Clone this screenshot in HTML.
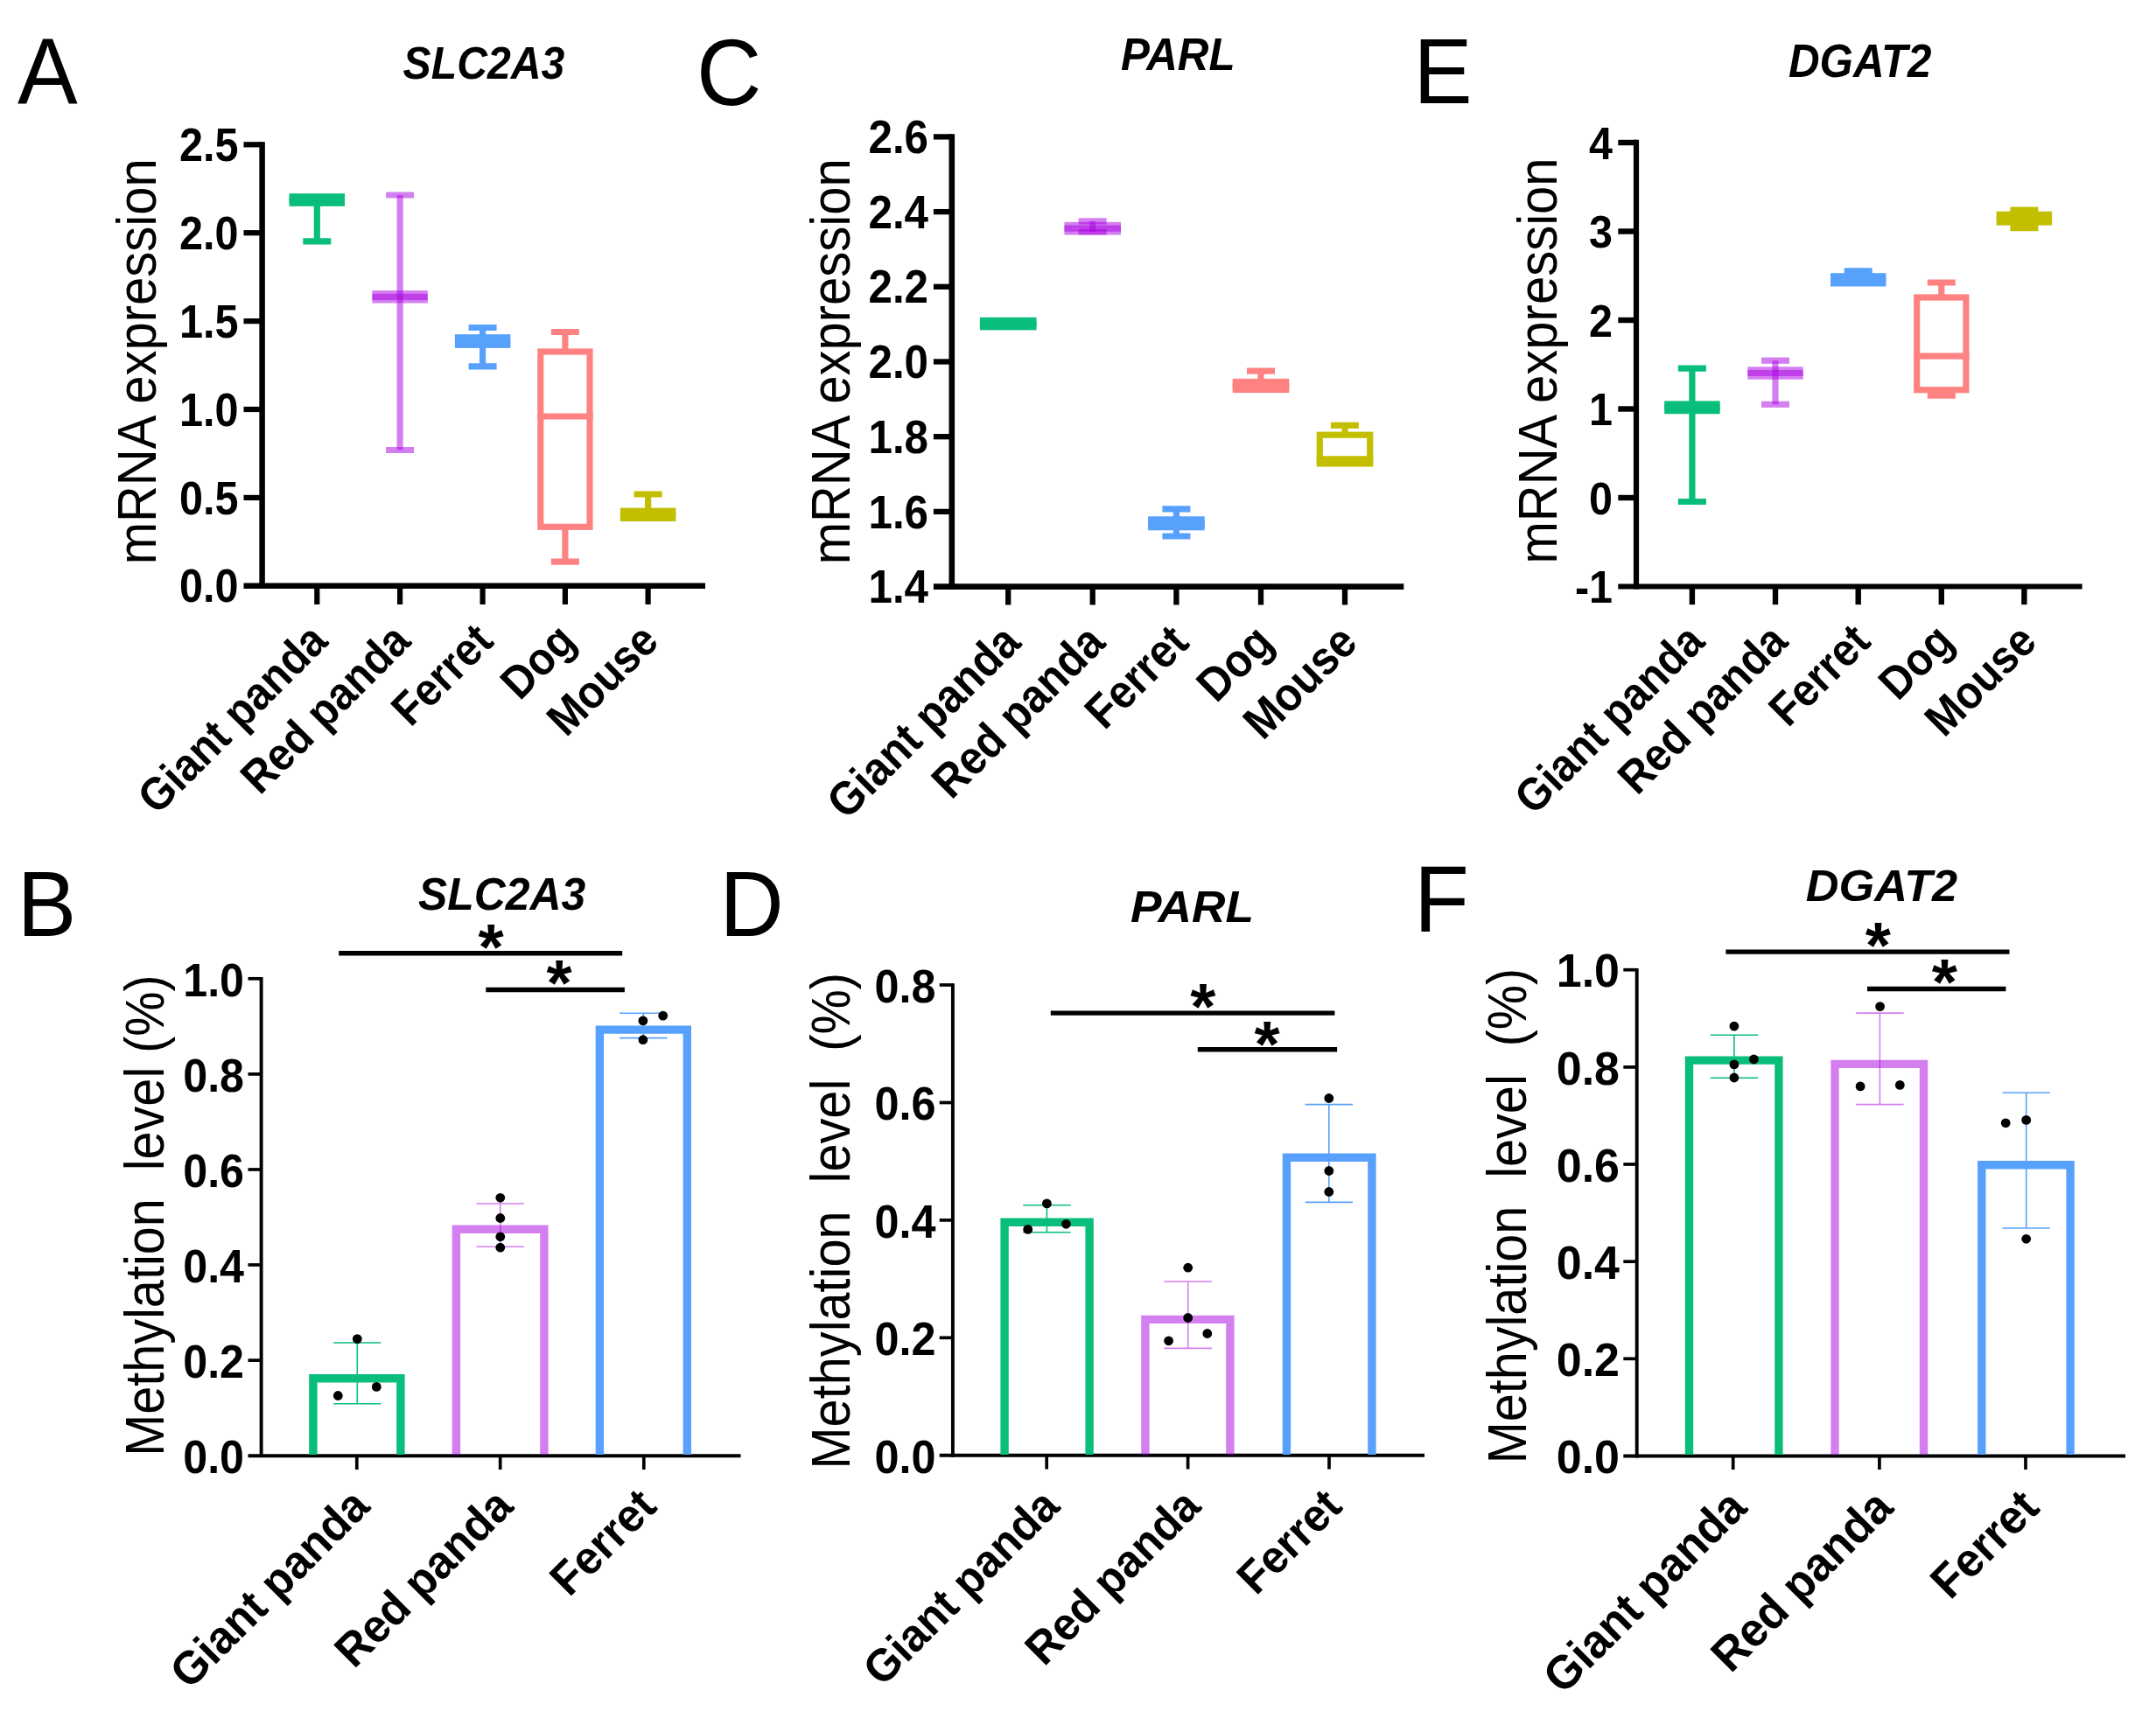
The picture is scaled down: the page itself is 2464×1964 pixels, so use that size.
<!DOCTYPE html>
<html lang="en"><head><meta charset="utf-8"><title>Figure</title>
<style>html,body{margin:0;padding:0;background:#fff}svg{display:block}</style>
</head><body>
<svg width="2464" height="1964" viewBox="0 0 2464 1964" font-family="'Liberation Sans', sans-serif" fill="#000">
<rect width="2464" height="1964" fill="#fff"/>
<text transform="translate(20 118.5) scale(1 1.05)" font-size="103">A</text>
<text transform="translate(553 90) scale(1 1.07)" font-size="48.2" font-weight="bold" font-style="italic" text-anchor="middle">SLC2A3</text>
<text transform="translate(177.5 413.3) rotate(-90) scale(1 1.075)" font-size="58" text-anchor="middle" xml:space="preserve" style="white-space:pre">mRNA expression</text>
<g stroke="#000">
<line x1="299.6" y1="162.2" x2="299.6" y2="673" stroke-width="6.5"/>
<line x1="278.5" y1="165.3" x2="299.6" y2="165.3" stroke-width="6.2"/>
<line x1="278.5" y1="266.2" x2="299.6" y2="266.2" stroke-width="6.2"/>
<line x1="278.5" y1="367.1" x2="299.6" y2="367.1" stroke-width="6.2"/>
<line x1="278.5" y1="468" x2="299.6" y2="468" stroke-width="6.2"/>
<line x1="278.5" y1="568.9" x2="299.6" y2="568.9" stroke-width="6.2"/>
<line x1="278.5" y1="669.8" x2="806" y2="669.8" stroke-width="6.5"/>
<line x1="362.3" y1="669.8" x2="362.3" y2="691" stroke-width="6.2"/>
<line x1="457.1" y1="669.8" x2="457.1" y2="691" stroke-width="6.2"/>
<line x1="551.6" y1="669.8" x2="551.6" y2="691" stroke-width="6.2"/>
<line x1="645.9" y1="669.8" x2="645.9" y2="691" stroke-width="6.2"/>
<line x1="740.6" y1="669.8" x2="740.6" y2="691" stroke-width="6.2"/>
</g>
<text transform="translate(272.5 183.9) scale(1 1.095)" font-size="48.5" font-weight="bold" text-anchor="end">2.5</text>
<text transform="translate(272.5 284.8) scale(1 1.095)" font-size="48.5" font-weight="bold" text-anchor="end">2.0</text>
<text transform="translate(272.5 385.7) scale(1 1.095)" font-size="48.5" font-weight="bold" text-anchor="end">1.5</text>
<text transform="translate(272.5 486.6) scale(1 1.095)" font-size="48.5" font-weight="bold" text-anchor="end">1.0</text>
<text transform="translate(272.5 587.5) scale(1 1.095)" font-size="48.5" font-weight="bold" text-anchor="end">0.5</text>
<text transform="translate(272.5 688.4) scale(1 1.095)" font-size="48.5" font-weight="bold" text-anchor="end">0.0</text>
<text transform="translate(376.8 735.5) rotate(-45) scale(1 1.09)" font-size="48.3" font-weight="bold" text-anchor="end">Giant panda</text>
<text transform="translate(471.6 735.5) rotate(-45) scale(1 1.09)" font-size="48.3" font-weight="bold" text-anchor="end">Red panda</text>
<text transform="translate(566.1 735.5) rotate(-45) scale(1 1.09)" font-size="48.3" font-weight="bold" text-anchor="end">Ferret</text>
<text transform="translate(660.4 735.5) rotate(-45) scale(1 1.09)" font-size="48.3" font-weight="bold" text-anchor="end">Dog</text>
<text transform="translate(755.1 735.5) rotate(-45) scale(1 1.09)" font-size="48.3" font-weight="bold" text-anchor="end">Mouse</text>
<g stroke="#08be7a" stroke-width="7.2" fill="none">
<line x1="362.3" y1="232.2" x2="362.3" y2="275.9"/>
<line x1="346.3" y1="275.9" x2="378.3" y2="275.9"/>
<rect x="334.2" y="224.8" width="56.2" height="7.4"/>
<line x1="330.6" y1="228.5" x2="394" y2="228.5"/>
</g>
<g stroke="#a900e1" stroke-width="7.2" fill="none" stroke-opacity="0.5">
<line x1="457.1" y1="223" x2="457.1" y2="514.5"/>
<line x1="441.1" y1="223" x2="473.1" y2="223"/>
<line x1="441.1" y1="514.5" x2="473.1" y2="514.5"/>
<rect x="429" y="335.7" width="56.2" height="7.2"/>
<line x1="425.4" y1="339.3" x2="488.8" y2="339.3"/>
</g>
<g stroke="#57a1fc" stroke-width="7.2" fill="none">
<line x1="551.6" y1="374.5" x2="551.6" y2="385.8"/>
<line x1="551.6" y1="394.3" x2="551.6" y2="418.8"/>
<line x1="535.6" y1="374.5" x2="567.6" y2="374.5"/>
<line x1="535.6" y1="418.8" x2="567.6" y2="418.8"/>
<rect x="523.5" y="385.8" width="56.2" height="8.5"/>
<line x1="519.9" y1="390.1" x2="583.3" y2="390.1"/>
</g>
<g stroke="#ff8282" stroke-width="7.2" fill="none">
<line x1="645.9" y1="379.5" x2="645.9" y2="402"/>
<line x1="645.9" y1="602.3" x2="645.9" y2="642.2"/>
<line x1="629.9" y1="379.5" x2="661.9" y2="379.5"/>
<line x1="629.9" y1="642.2" x2="661.9" y2="642.2"/>
<rect x="617.8" y="402" width="56.2" height="200.3"/>
<line x1="614.2" y1="476" x2="677.6" y2="476"/>
</g>
<g stroke="#c3bf00" stroke-width="7.2" fill="none">
<line x1="740.6" y1="565" x2="740.6" y2="584.2"/>
<line x1="724.6" y1="565" x2="756.6" y2="565"/>
<rect x="712.5" y="584.2" width="56.2" height="8.2"/>
<line x1="708.9" y1="588.3" x2="772.3" y2="588.3"/>
</g>
<text transform="translate(796 119.5) scale(1 1.05)" font-size="103">C</text>
<text transform="translate(1346.3 80) scale(1 1.05)" font-size="49.3" font-weight="bold" font-style="italic" text-anchor="middle">PARL</text>
<text transform="translate(971 413.3) rotate(-90) scale(1 1.075)" font-size="58" text-anchor="middle" xml:space="preserve" style="white-space:pre">mRNA expression</text>
<g stroke="#000">
<line x1="1087.8" y1="153.2" x2="1087.8" y2="673.9" stroke-width="6.6"/>
<line x1="1066.9" y1="156.4" x2="1087.8" y2="156.4" stroke-width="6.3"/>
<line x1="1066.9" y1="242.1" x2="1087.8" y2="242.1" stroke-width="6.3"/>
<line x1="1066.9" y1="327.8" x2="1087.8" y2="327.8" stroke-width="6.3"/>
<line x1="1066.9" y1="413.5" x2="1087.8" y2="413.5" stroke-width="6.3"/>
<line x1="1066.9" y1="499.2" x2="1087.8" y2="499.2" stroke-width="6.3"/>
<line x1="1066.9" y1="584.9" x2="1087.8" y2="584.9" stroke-width="6.3"/>
<line x1="1066.9" y1="670.6" x2="1604.3" y2="670.6" stroke-width="6.6"/>
<line x1="1152.2" y1="670.6" x2="1152.2" y2="691.5" stroke-width="6.3"/>
<line x1="1248.7" y1="670.6" x2="1248.7" y2="691.5" stroke-width="6.3"/>
<line x1="1344.4" y1="670.6" x2="1344.4" y2="691.5" stroke-width="6.3"/>
<line x1="1441" y1="670.6" x2="1441" y2="691.5" stroke-width="6.3"/>
<line x1="1537" y1="670.6" x2="1537" y2="691.5" stroke-width="6.3"/>
</g>
<text transform="translate(1061 175) scale(1 1.07)" font-size="49.3" font-weight="bold" text-anchor="end">2.6</text>
<text transform="translate(1061 260.7) scale(1 1.07)" font-size="49.3" font-weight="bold" text-anchor="end">2.4</text>
<text transform="translate(1061 346.4) scale(1 1.07)" font-size="49.3" font-weight="bold" text-anchor="end">2.2</text>
<text transform="translate(1061 432.1) scale(1 1.07)" font-size="49.3" font-weight="bold" text-anchor="end">2.0</text>
<text transform="translate(1061 517.8) scale(1 1.07)" font-size="49.3" font-weight="bold" text-anchor="end">1.8</text>
<text transform="translate(1061 603.5) scale(1 1.07)" font-size="49.3" font-weight="bold" text-anchor="end">1.6</text>
<text transform="translate(1061 689.2) scale(1 1.07)" font-size="49.3" font-weight="bold" text-anchor="end">1.4</text>
<text transform="translate(1168.9 737.1) rotate(-45) scale(1 1.09)" font-size="49.3" font-weight="bold" text-anchor="end">Giant panda</text>
<text transform="translate(1265.4 737.1) rotate(-45) scale(1 1.09)" font-size="49.3" font-weight="bold" text-anchor="end">Red panda</text>
<text transform="translate(1361.1 737.1) rotate(-45) scale(1 1.09)" font-size="49.3" font-weight="bold" text-anchor="end">Ferret</text>
<text transform="translate(1457.7 737.1) rotate(-45) scale(1 1.09)" font-size="49.3" font-weight="bold" text-anchor="end">Dog</text>
<text transform="translate(1553.7 737.1) rotate(-45) scale(1 1.09)" font-size="49.3" font-weight="bold" text-anchor="end">Mouse</text>
<g stroke="#08be7a" stroke-width="7.2" fill="none">
<rect x="1123.5" y="366.4" width="57.4" height="7.4"/>
<line x1="1119.9" y1="370.1" x2="1184.5" y2="370.1"/>
</g>
<g stroke="#a900e1" stroke-width="7.2" fill="none" stroke-opacity="0.5">
<line x1="1248.7" y1="252.8" x2="1248.7" y2="265"/>
<line x1="1232.7" y1="252.8" x2="1264.7" y2="252.8"/>
<line x1="1232.7" y1="265" x2="1264.7" y2="265"/>
<rect x="1220" y="257.4" width="57.4" height="7.5"/>
<line x1="1216.4" y1="261.1" x2="1281" y2="261.1"/>
</g>
<g stroke="#57a1fc" stroke-width="7.2" fill="none">
<line x1="1344.4" y1="581.9" x2="1344.4" y2="593.9"/>
<line x1="1344.4" y1="602.7" x2="1344.4" y2="613"/>
<line x1="1328.4" y1="581.9" x2="1360.4" y2="581.9"/>
<line x1="1328.4" y1="613" x2="1360.4" y2="613"/>
<rect x="1315.7" y="593.9" width="57.4" height="8.8"/>
<line x1="1312.1" y1="598.3" x2="1376.7" y2="598.3"/>
</g>
<g stroke="#ff8282" stroke-width="7.2" fill="none">
<line x1="1441" y1="424.1" x2="1441" y2="436.5"/>
<line x1="1425" y1="424.1" x2="1457" y2="424.1"/>
<rect x="1412.3" y="436.5" width="57.4" height="9"/>
<line x1="1408.7" y1="441" x2="1473.3" y2="441"/>
</g>
<g stroke="#c3bf00" stroke-width="7.2" fill="none">
<line x1="1537" y1="486.3" x2="1537" y2="497.2"/>
<line x1="1521" y1="486.3" x2="1553" y2="486.3"/>
<rect x="1508.3" y="497.2" width="57.4" height="32.8"/>
<line x1="1504.7" y1="524.8" x2="1569.3" y2="524.8"/>
</g>
<text transform="translate(1615.5 118.4) scale(1 1.05)" font-size="100.5">E</text>
<text transform="translate(2125.7 88.3) scale(1 1.08)" font-size="49.3" font-weight="bold" font-style="italic" text-anchor="middle">DGAT2</text>
<text transform="translate(1779 412.5) rotate(-90) scale(1 1.075)" font-size="58" text-anchor="middle" xml:space="preserve" style="white-space:pre">mRNA expression</text>
<g stroke="#000">
<line x1="1870" y1="159.8" x2="1870" y2="673.6" stroke-width="6.2"/>
<line x1="1849.3" y1="163" x2="1870" y2="163" stroke-width="6.4"/>
<line x1="1849.3" y1="264.5" x2="1870" y2="264.5" stroke-width="6.4"/>
<line x1="1849.3" y1="366" x2="1870" y2="366" stroke-width="6.4"/>
<line x1="1849.3" y1="467.5" x2="1870" y2="467.5" stroke-width="6.4"/>
<line x1="1849.3" y1="569" x2="1870" y2="569" stroke-width="6.4"/>
<line x1="1849.3" y1="670.5" x2="2379.6" y2="670.5" stroke-width="6.2"/>
<line x1="1933.9" y1="670.5" x2="1933.9" y2="691.2" stroke-width="6.4"/>
<line x1="2029" y1="670.5" x2="2029" y2="691.2" stroke-width="6.4"/>
<line x1="2123.7" y1="670.5" x2="2123.7" y2="691.2" stroke-width="6.4"/>
<line x1="2218.8" y1="670.5" x2="2218.8" y2="691.2" stroke-width="6.4"/>
<line x1="2313.4" y1="670.5" x2="2313.4" y2="691.2" stroke-width="6.4"/>
</g>
<text transform="translate(1843 181.6) scale(1 1.08)" font-size="48.5" font-weight="bold" text-anchor="end">4</text>
<text transform="translate(1843 283.1) scale(1 1.08)" font-size="48.5" font-weight="bold" text-anchor="end">3</text>
<text transform="translate(1843 384.6) scale(1 1.08)" font-size="48.5" font-weight="bold" text-anchor="end">2</text>
<text transform="translate(1843 486.1) scale(1 1.08)" font-size="48.5" font-weight="bold" text-anchor="end">1</text>
<text transform="translate(1843 587.6) scale(1 1.08)" font-size="48.5" font-weight="bold" text-anchor="end">0</text>
<text transform="translate(1843 689.1) scale(1 1.08)" font-size="48.5" font-weight="bold" text-anchor="end">-1</text>
<text transform="translate(1950.4 736) rotate(-45) scale(1 1.09)" font-size="48.3" font-weight="bold" text-anchor="end">Giant panda</text>
<text transform="translate(2045.5 736) rotate(-45) scale(1 1.09)" font-size="48.3" font-weight="bold" text-anchor="end">Red panda</text>
<text transform="translate(2140.2 736) rotate(-45) scale(1 1.09)" font-size="48.3" font-weight="bold" text-anchor="end">Ferret</text>
<text transform="translate(2235.3 736) rotate(-45) scale(1 1.09)" font-size="48.3" font-weight="bold" text-anchor="end">Dog</text>
<text transform="translate(2329.9 736) rotate(-45) scale(1 1.09)" font-size="48.3" font-weight="bold" text-anchor="end">Mouse</text>
<g stroke="#08be7a" stroke-width="7.2" fill="none">
<line x1="1933.9" y1="421.1" x2="1933.9" y2="462"/>
<line x1="1933.9" y1="469.6" x2="1933.9" y2="573.5"/>
<line x1="1917.9" y1="421.1" x2="1949.9" y2="421.1"/>
<line x1="1917.9" y1="573.5" x2="1949.9" y2="573.5"/>
<rect x="1905.8" y="462" width="56.2" height="7.6"/>
<line x1="1902.2" y1="465.8" x2="1965.6" y2="465.8"/>
</g>
<g stroke="#a900e1" stroke-width="7.2" fill="none" stroke-opacity="0.5">
<line x1="2029" y1="412.2" x2="2029" y2="462.3"/>
<line x1="2013" y1="412.2" x2="2045" y2="412.2"/>
<line x1="2013" y1="462.3" x2="2045" y2="462.3"/>
<rect x="2000.9" y="422.9" width="56.2" height="7.3"/>
<line x1="1997.3" y1="426.5" x2="2060.7" y2="426.5"/>
</g>
<g stroke="#57a1fc" stroke-width="7.2" fill="none">
<line x1="2123.7" y1="309.9" x2="2123.7" y2="315.8"/>
<line x1="2107.7" y1="309.9" x2="2139.7" y2="309.9"/>
<rect x="2095.6" y="315.8" width="56.2" height="8.1"/>
<line x1="2092" y1="319.9" x2="2155.4" y2="319.9"/>
</g>
<g stroke="#ff8282" stroke-width="7.2" fill="none">
<line x1="2218.8" y1="323" x2="2218.8" y2="340"/>
<line x1="2218.8" y1="445.7" x2="2218.8" y2="452.2"/>
<line x1="2202.8" y1="323" x2="2234.8" y2="323"/>
<line x1="2202.8" y1="452.2" x2="2234.8" y2="452.2"/>
<rect x="2190.7" y="340" width="56.2" height="105.7"/>
<line x1="2187.1" y1="407.1" x2="2250.5" y2="407.1"/>
</g>
<g stroke="#c3bf00" stroke-width="7.2" fill="none">
<line x1="2313.4" y1="240" x2="2313.4" y2="245.3"/>
<line x1="2313.4" y1="254" x2="2313.4" y2="260.7"/>
<line x1="2297.4" y1="240" x2="2329.4" y2="240"/>
<line x1="2297.4" y1="260.7" x2="2329.4" y2="260.7"/>
<rect x="2285.3" y="245.3" width="56.2" height="8.7"/>
<line x1="2281.7" y1="249.7" x2="2345.1" y2="249.7"/>
</g>
<text transform="translate(19.7 1069.8) scale(1 1.05)" font-size="101.2">B</text>
<text transform="translate(573.7 1040.2) scale(1 1.02)" font-size="49.9" font-weight="bold" font-style="italic" text-anchor="middle">SLC2A3</text>
<text transform="translate(186.8 1389.5) rotate(-90) scale(1 1.08)" font-size="57.6" text-anchor="middle" xml:space="preserve" style="white-space:pre">Methylation  level (%)</text>
<g stroke="#000">
<line x1="298.6" y1="1117" x2="298.6" y2="1666.1" stroke-width="3.9"/>
<line x1="283.5" y1="1118.8" x2="298.6" y2="1118.8" stroke-width="3.7"/>
<line x1="283.5" y1="1227.9" x2="298.6" y2="1227.9" stroke-width="3.7"/>
<line x1="283.5" y1="1337" x2="298.6" y2="1337" stroke-width="3.7"/>
<line x1="283.5" y1="1446" x2="298.6" y2="1446" stroke-width="3.7"/>
<line x1="283.5" y1="1555.1" x2="298.6" y2="1555.1" stroke-width="3.7"/>
<line x1="283.5" y1="1664.2" x2="846.5" y2="1664.2" stroke-width="3.9"/>
<line x1="407.8" y1="1664.2" x2="407.8" y2="1680" stroke-width="3.7"/>
<line x1="571.7" y1="1664.2" x2="571.7" y2="1680" stroke-width="3.7"/>
<line x1="735.8" y1="1664.2" x2="735.8" y2="1680" stroke-width="3.7"/>
</g>
<text transform="translate(279 1138.5) scale(1 1.075)" font-size="50.2" font-weight="bold" text-anchor="end">1.0</text>
<text transform="translate(279 1247.6) scale(1 1.075)" font-size="50.2" font-weight="bold" text-anchor="end">0.8</text>
<text transform="translate(279 1356.7) scale(1 1.075)" font-size="50.2" font-weight="bold" text-anchor="end">0.6</text>
<text transform="translate(279 1465.7) scale(1 1.075)" font-size="50.2" font-weight="bold" text-anchor="end">0.4</text>
<text transform="translate(279 1574.8) scale(1 1.075)" font-size="50.2" font-weight="bold" text-anchor="end">0.2</text>
<text transform="translate(279 1683.9) scale(1 1.075)" font-size="50.2" font-weight="bold" text-anchor="end">0.0</text>
<text transform="translate(424.8 1724.5) rotate(-45) scale(1 1.04)" font-size="51" font-weight="bold" text-anchor="end">Giant panda</text>
<text transform="translate(588.7 1724.5) rotate(-45) scale(1 1.04)" font-size="51" font-weight="bold" text-anchor="end">Red panda</text>
<text transform="translate(752.8 1724.5) rotate(-45) scale(1 1.04)" font-size="51" font-weight="bold" text-anchor="end">Ferret</text>
<path d="M357.9 1663V1575.7H457.9V1663" fill="none" stroke="#08be7a" stroke-width="9.4"/>
<path d="M521.4 1663V1405.2H621.9V1663" fill="none" stroke="#a900e1" stroke-width="9.4" stroke-opacity="0.5"/>
<path d="M685.4 1663V1177.1H785.3V1663" fill="none" stroke="#57a1fc" stroke-width="9.4"/>
<path d="M381.2 1535H435.4M381.2 1604.8H435.4M408.3 1535V1604.8" fill="none" stroke="#08be7a" stroke-width="1.6"/>
<path d="M544.6 1376H598.9M544.6 1425.3H598.9M571.8 1376V1425.3" fill="none" stroke="#a900e1" stroke-width="1.6" stroke-opacity="0.5"/>
<path d="M708.1 1158.2H762.4M708.1 1186.6H762.4M735.3 1158.2V1186.6" fill="none" stroke="#57a1fc" stroke-width="1.6"/>
<circle cx="408.3" cy="1530.6" r="5.4"/>
<circle cx="386.3" cy="1595.5" r="5.4"/>
<circle cx="430.3" cy="1585.4" r="5.4"/>
<circle cx="571.8" cy="1369.3" r="5.4"/>
<circle cx="571.8" cy="1392.5" r="5.4"/>
<circle cx="571.8" cy="1413.8" r="5.4"/>
<circle cx="571.8" cy="1426.2" r="5.4"/>
<circle cx="757.7" cy="1161.2" r="5.4"/>
<circle cx="734.9" cy="1166.9" r="5.4"/>
<circle cx="734.9" cy="1188.7" r="5.4"/>
<g stroke="#000">
<line x1="387.2" y1="1089.8" x2="711.2" y2="1089.8" stroke-width="5.4"/>
</g>
<text transform="translate(561.2 1108.1)" font-size="75" font-weight="bold" text-anchor="middle">*</text>
<g stroke="#000">
<line x1="555.3" y1="1131.5" x2="713.9" y2="1131.5" stroke-width="5.4"/>
</g>
<text transform="translate(639.2 1149.2)" font-size="75" font-weight="bold" text-anchor="middle">*</text>
<text transform="translate(822.4 1069.8) scale(1 1.05)" font-size="101.4">D</text>
<text transform="translate(1362.5 1053.5) scale(1 0.94)" font-size="53.3" font-weight="bold" font-style="italic" text-anchor="middle">PARL</text>
<text transform="translate(970.8 1395.7) rotate(-90) scale(1 1.08)" font-size="57.7" text-anchor="middle" xml:space="preserve" style="white-space:pre">Methylation  level  (%)</text>
<g stroke="#000">
<line x1="1088.9" y1="1124.2" x2="1088.9" y2="1665.8" stroke-width="3.9"/>
<line x1="1073.7" y1="1126" x2="1088.9" y2="1126" stroke-width="3.7"/>
<line x1="1073.7" y1="1260.5" x2="1088.9" y2="1260.5" stroke-width="3.7"/>
<line x1="1073.7" y1="1394.9" x2="1088.9" y2="1394.9" stroke-width="3.7"/>
<line x1="1073.7" y1="1529.3" x2="1088.9" y2="1529.3" stroke-width="3.7"/>
<line x1="1073.7" y1="1663.8" x2="1628" y2="1663.8" stroke-width="3.9"/>
<line x1="1196.2" y1="1663.8" x2="1196.2" y2="1679.5" stroke-width="3.7"/>
<line x1="1357.6" y1="1663.8" x2="1357.6" y2="1679.5" stroke-width="3.7"/>
<line x1="1519" y1="1663.8" x2="1519" y2="1679.5" stroke-width="3.7"/>
</g>
<text transform="translate(1069.5 1145.7) scale(1 1.075)" font-size="50.4" font-weight="bold" text-anchor="end">0.8</text>
<text transform="translate(1069.5 1280.2) scale(1 1.075)" font-size="50.4" font-weight="bold" text-anchor="end">0.6</text>
<text transform="translate(1069.5 1414.6) scale(1 1.075)" font-size="50.4" font-weight="bold" text-anchor="end">0.4</text>
<text transform="translate(1069.5 1549) scale(1 1.075)" font-size="50.4" font-weight="bold" text-anchor="end">0.2</text>
<text transform="translate(1069.5 1683.5) scale(1 1.075)" font-size="50.4" font-weight="bold" text-anchor="end">0.0</text>
<text transform="translate(1213.2 1724.5) rotate(-45) scale(1 1.04)" font-size="50.2" font-weight="bold" text-anchor="end">Giant panda</text>
<text transform="translate(1374.6 1724.5) rotate(-45) scale(1 1.04)" font-size="50.2" font-weight="bold" text-anchor="end">Red panda</text>
<text transform="translate(1536 1724.5) rotate(-45) scale(1 1.04)" font-size="50.2" font-weight="bold" text-anchor="end">Ferret</text>
<path d="M1148.1 1663V1397.2H1245.1V1663" fill="none" stroke="#08be7a" stroke-width="9.4"/>
<path d="M1308.9 1663V1508.4H1405.9V1663" fill="none" stroke="#a900e1" stroke-width="9.4" stroke-opacity="0.5"/>
<path d="M1470.4 1663V1323.2H1567.9V1663" fill="none" stroke="#57a1fc" stroke-width="9.4"/>
<path d="M1169.2 1377.7H1223.6M1169.2 1408.7H1223.6M1196.4 1377.7V1408.7" fill="none" stroke="#08be7a" stroke-width="1.6"/>
<path d="M1330.5 1465H1384.9M1330.5 1541.4H1384.9M1357.7 1465V1541.4" fill="none" stroke="#a900e1" stroke-width="1.6" stroke-opacity="0.5"/>
<path d="M1491.6 1262.6H1546M1491.6 1374.4H1546M1518.8 1262.6V1374.4" fill="none" stroke="#57a1fc" stroke-width="1.6"/>
<circle cx="1196.4" cy="1375.9" r="5.4"/>
<circle cx="1174.7" cy="1405.4" r="5.4"/>
<circle cx="1218.4" cy="1399.3" r="5.4"/>
<circle cx="1357.7" cy="1449.2" r="5.4"/>
<circle cx="1357.7" cy="1506.5" r="5.4"/>
<circle cx="1379.8" cy="1524.5" r="5.4"/>
<circle cx="1335.6" cy="1532.8" r="5.4"/>
<circle cx="1518.8" cy="1255.5" r="5.4"/>
<circle cx="1518.8" cy="1338.5" r="5.4"/>
<circle cx="1518.8" cy="1362.5" r="5.4"/>
<g stroke="#000">
<line x1="1200.8" y1="1158.1" x2="1525.4" y2="1158.1" stroke-width="5.4"/>
</g>
<text transform="translate(1374.9 1175.5)" font-size="75" font-weight="bold" text-anchor="middle">*</text>
<g stroke="#000">
<line x1="1368.8" y1="1199.7" x2="1528.1" y2="1199.7" stroke-width="5.4"/>
</g>
<text transform="translate(1448.2 1218.9)" font-size="75" font-weight="bold" text-anchor="middle">*</text>
<text transform="translate(1616 1064.7) scale(1 1.05)" font-size="103">F</text>
<text transform="translate(2150.5 1030) scale(1 0.94)" font-size="52.3" font-weight="bold" font-style="italic" text-anchor="middle">DGAT2</text>
<text transform="translate(1743.6 1390) rotate(-90) scale(1 1.08)" font-size="57.6" text-anchor="middle" xml:space="preserve" style="white-space:pre">Methylation  level  (%)</text>
<g stroke="#000">
<line x1="1870.7" y1="1106.9" x2="1870.7" y2="1666.4" stroke-width="3.9"/>
<line x1="1855.3" y1="1108.7" x2="1870.7" y2="1108.7" stroke-width="3.7"/>
<line x1="1855.3" y1="1219.9" x2="1870.7" y2="1219.9" stroke-width="3.7"/>
<line x1="1855.3" y1="1331" x2="1870.7" y2="1331" stroke-width="3.7"/>
<line x1="1855.3" y1="1442.2" x2="1870.7" y2="1442.2" stroke-width="3.7"/>
<line x1="1855.3" y1="1553.3" x2="1870.7" y2="1553.3" stroke-width="3.7"/>
<line x1="1855.3" y1="1664.5" x2="2429" y2="1664.5" stroke-width="3.9"/>
<line x1="1980.7" y1="1664.5" x2="1980.7" y2="1680" stroke-width="3.7"/>
<line x1="2147.9" y1="1664.5" x2="2147.9" y2="1680" stroke-width="3.7"/>
<line x1="2315" y1="1664.5" x2="2315" y2="1680" stroke-width="3.7"/>
</g>
<text transform="translate(1851 1128.4) scale(1 1.045)" font-size="52" font-weight="bold" text-anchor="end">1.0</text>
<text transform="translate(1851 1239.6) scale(1 1.045)" font-size="52" font-weight="bold" text-anchor="end">0.8</text>
<text transform="translate(1851 1350.7) scale(1 1.045)" font-size="52" font-weight="bold" text-anchor="end">0.6</text>
<text transform="translate(1851 1461.9) scale(1 1.045)" font-size="52" font-weight="bold" text-anchor="end">0.4</text>
<text transform="translate(1851 1573) scale(1 1.045)" font-size="52" font-weight="bold" text-anchor="end">0.2</text>
<text transform="translate(1851 1684.2) scale(1 1.045)" font-size="52" font-weight="bold" text-anchor="end">0.0</text>
<text transform="translate(1998.7 1726) rotate(-45) scale(1 1.04)" font-size="52" font-weight="bold" text-anchor="end">Giant panda</text>
<text transform="translate(2165.9 1726) rotate(-45) scale(1 1.04)" font-size="52" font-weight="bold" text-anchor="end">Red panda</text>
<text transform="translate(2333 1726) rotate(-45) scale(1 1.04)" font-size="52" font-weight="bold" text-anchor="end">Ferret</text>
<path d="M1930.5 1663V1212.1H2032.9V1663" fill="none" stroke="#08be7a" stroke-width="9.4"/>
<path d="M2097 1663V1216.4H2198.5V1663" fill="none" stroke="#a900e1" stroke-width="9.4" stroke-opacity="0.5"/>
<path d="M2264.8 1663V1331.7H2366.1V1663" fill="none" stroke="#57a1fc" stroke-width="9.4"/>
<path d="M1954.8 1183.2H2009.1M1954.8 1232.3H2009.1M1981.9 1183.2V1232.3" fill="none" stroke="#08be7a" stroke-width="1.6"/>
<path d="M2121.2 1158.1H2175.6M2121.2 1262.6H2175.6M2148.4 1158.1V1262.6" fill="none" stroke="#a900e1" stroke-width="1.6" stroke-opacity="0.5"/>
<path d="M2288.5 1249.3H2342.8M2288.5 1404H2342.8M2315.7 1249.3V1404" fill="none" stroke="#57a1fc" stroke-width="1.6"/>
<circle cx="1981.9" cy="1173.1" r="5.4"/>
<circle cx="1981.9" cy="1216.9" r="5.4"/>
<circle cx="2004.4" cy="1211" r="5.4"/>
<circle cx="1981.9" cy="1232" r="5.4"/>
<circle cx="2148.6" cy="1150.6" r="5.4"/>
<circle cx="2126.1" cy="1241.9" r="5.4"/>
<circle cx="2171.3" cy="1240.4" r="5.4"/>
<circle cx="2292.2" cy="1283.8" r="5.4"/>
<circle cx="2315.7" cy="1280.4" r="5.4"/>
<circle cx="2315.7" cy="1416.3" r="5.4"/>
<g stroke="#000">
<line x1="1972.4" y1="1088.1" x2="2296.5" y2="1088.1" stroke-width="5.4"/>
</g>
<text transform="translate(2146.4 1106)" font-size="75" font-weight="bold" text-anchor="middle">*</text>
<g stroke="#000">
<line x1="2134" y1="1130.5" x2="2292.4" y2="1130.5" stroke-width="5.4"/>
</g>
<text transform="translate(2222.3 1147.7)" font-size="75" font-weight="bold" text-anchor="middle">*</text>
</svg>
</body></html>
